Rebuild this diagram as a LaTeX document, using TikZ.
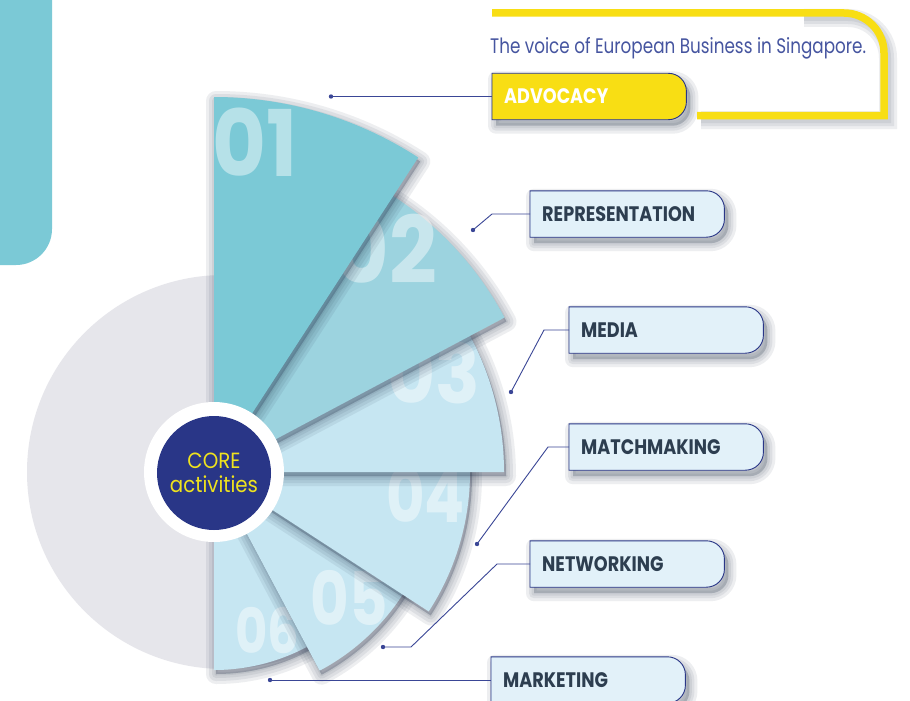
\documentclass[tikz,border=0pt]{standalone}
\usepackage{fontspec}
\usepackage{graphicx}
\newfontfamily\numfont{Poppins}[FakeStretch=0.9]
\newfontfamily\numfontn{Poppins}[FakeStretch=0.8]
\newfontfamily\lblfont{Poppins}[FakeStretch=0.84]
\newfontfamily\corefont{Poppins}[FakeStretch=0.9]
\newfontfamily\tagfont{Poppins}[FakeStretch=0.8]

\definecolor{teal1}{RGB}{123,201,214}
\definecolor{teal2}{RGB}{156,211,223}
\definecolor{pale}{RGB}{198,230,242}
\definecolor{graybg}{RGB}{230,230,235}
\definecolor{navy}{RGB}{41,54,135}
\definecolor{sunny}{RGB}{248,222,20}
\definecolor{boxfill}{RGB}{226,241,249}
\definecolor{lbltext}{RGB}{45,62,80}
\definecolor{connc}{RGB}{58,70,150}
\definecolor{tagc}{RGB}{70,85,160}
\definecolor{coreyel}{RGB}{238,226,30}
\definecolor{shadowc}{RGB}{30,45,70}

\pgfdeclarelayer{bg}
\pgfdeclarelayer{boxes}
\pgfsetlayers{bg,boxes,main}

% fan centre
\def\cx{214}
\def\cy{472}

% one sector of the fan with its soft shadow
\newcommand\sector[4]{%
  \begin{scope}[shift={(2,4)}]
    \foreach \w in {20,14,8,3}{%
      \fill[shadowc,opacity=0.07] (\cx,\cy) -- ++(#1:#3) arc (#1:#2:#3) -- cycle;
      \draw[shadowc,opacity=0.08,line width=\w pt,line join=round] (\cx,\cy) -- ++(#1:#3) arc (#1:#2:#3) -- cycle;}
  \end{scope}
  \fill[#4] (\cx,\cy) -- ++(#1:#3) arc (#1:#2:#3) -- cycle;}

% outline of a label box: square on the left, rounded on the right
\newcommand\boxpath[3]{([shift={(#2,#3)}]#1.south west) -- ([shift={(#2,#3)}]#1.north west) -- ([shift={(#2,#3)},xshift=-18pt]#1.north east) arc[start angle=90,end angle=0,radius=18pt] -- ([shift={(#2,#3)},yshift=18pt]#1.south east) arc[start angle=0,end angle=-90,radius=18pt] -- cycle}

\newcommand\tagbox[2]{%
  \begin{pgfonlayer}{boxes}
    \foreach \w in {16,10,5}{%
      \fill[shadowc,opacity=0.08] \boxpath{#1}{4}{6};
      \draw[shadowc,opacity=0.08,line width=\w pt,line join=round] \boxpath{#1}{4}{6};}
    \filldraw[fill=#2,draw=navy,line width=0.9pt] \boxpath{#1}{0}{0};
  \end{pgfonlayer}}

\begin{document}
\begin{tikzpicture}[x=1pt,y=-1pt,
  num/.style={text=white,text opacity=0.45,inner sep=0pt},
  lbl/.style={font=\lblfont\bfseries\fontsize{21}{21}\selectfont,text=lbltext,anchor=west,
    minimum width=194pt,minimum height=46pt,inner xsep=12pt,inner ysep=0pt,text width=170pt,align=left},
  conn/.style={draw=connc,line width=0.9pt},
  dot/.style={fill=connc}]
\useasboundingbox (0,0) rectangle (910,701);
\begin{pgfonlayer}{bg}
  \fill[white] (0,0) rectangle (910,701);
\end{pgfonlayer}

% teal side bar
\fill[teal1,rounded corners=36pt] (-60,-60) rectangle (52,265);

% grey disc behind the fan
\fill[graybg] (224,472) circle[radius=197];

% fan sectors, lowest first
\sector{55}{90}{198}{pale}
\node[num,font=\numfontn\bfseries\fontsize{62}{62}\selectfont,anchor=base west] (n06) at (235,653) {06};
\sector{28}{62}{225}{pale}
\node[num,font=\numfontn\bfseries\fontsize{74}{74}\selectfont,anchor=base east] (n05) at (388,625) {05};
\sector{-5}{33}{256}{pale}
\node[num,font=\numfontn\bfseries\fontsize{74}{74}\selectfont,anchor=base east] (n04) at (465,522) {04};
\sector{-32}{0}{290}{pale}
\node[num,font=\numfont\bfseries\fontsize{82}{82}\selectfont,anchor=base east] (n03) at (480,403) {03};
\sector{-62}{-28}{329}{teal2}
\node[num,font=\numfont\bfseries\fontsize{93}{93}\selectfont,anchor=base east] (n02) at (437,283) {02};
\sector{-90}{-57}{375}{teal1}
\node[num,font=\numfont\bfseries\fontsize{92}{92}\selectfont,anchor=base west] (n01) at (212,176) {01};

% centre badge
\node[circle,fill=white,minimum size=140pt,inner sep=0pt] (ring) at (\cx,\cy) {};
\node[circle,fill=navy,minimum size=114pt,inner sep=0pt,align=center,text=coreyel,
  font=\corefont\fontsize{22}{24}\selectfont] (core) at (\cx,473) {CORE\\activities};

% yellow frame with the tagline
\foreach \w in {18,12,6}{%
  \draw[shadowc,opacity=0.08,line width=\w pt] (804,18) -- (848,18) arc[start angle=90,end angle=0,radius=40pt] -- (888,120) -- (701,120);}
\draw[sunny,line width=7.5pt] (492,13) -- (844,13) arc[start angle=90,end angle=0,radius=40pt] -- (884,115.5) -- (697,115.5);
\node[font=\tagfont\fontsize{21}{21}\selectfont,text=tagc,anchor=base west,inner sep=0pt] (tag) at (490,53) {The voice of European Business in Singapore.};

% label boxes
\node[lbl,text=white] (adv) at (492,96.5) {ADVOCACY};
\tagbox{adv}{sunny}
\node[lbl] (rep) at (530,214) {REPRESENTATION};
\tagbox{rep}{boxfill}
\node[lbl] (med) at (569,330) {MEDIA};
\tagbox{med}{boxfill}
\node[lbl] (mat) at (569,447) {MATCHMAKING};
\tagbox{mat}{boxfill}
\node[lbl] (net) at (530,564) {NETWORKING};
\tagbox{net}{boxfill}
\node[lbl] (mar) at (491,680) {MARKETING};
\tagbox{mar}{boxfill}

% connectors
\coordinate (advd) at (331,96.5);
\coordinate (repd) at (473,230);
\coordinate (repb) at (492,214);
\coordinate (medd) at (511,392);
\coordinate (medb) at (544,330);
\coordinate (matd) at (477,544);
\coordinate (matb) at (548,447);
\coordinate (netd) at (383,647);
\coordinate (netc) at (411,647);
\coordinate (netb) at (497,564);
\coordinate (mard) at (270,680);
\draw[conn] (advd) -- (adv.west);
\draw[conn] (repd) -- (repb) -- (rep.west);
\draw[conn] (medd) -- (medb) -- (med.west);
\draw[conn] (matd) -- (matb) -- (mat.west);
\draw[conn] (netd) -- (netc) -- (netb) -- (net.west);
\draw[conn] (mard) -- (mar.west);
\foreach \d in {advd,repd,medd,matd,netd,mard}{\fill[dot] (\d) circle[radius=2.2];}
\end{tikzpicture}
\end{document}
